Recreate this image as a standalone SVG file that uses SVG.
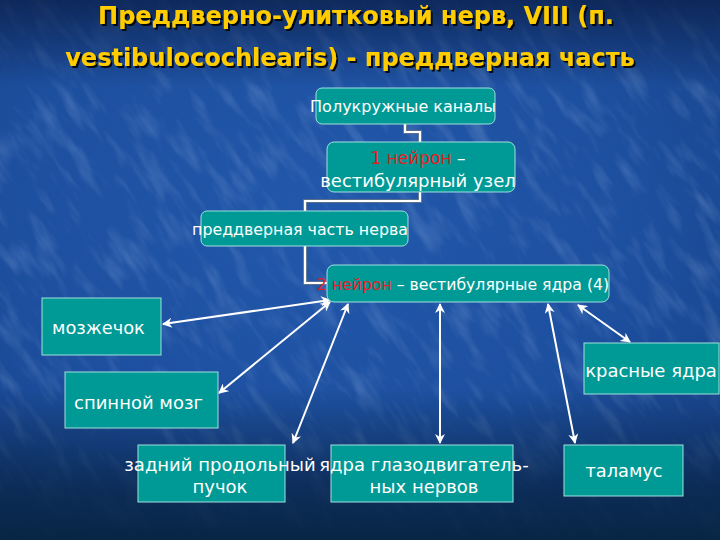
<svg xmlns="http://www.w3.org/2000/svg" width="720" height="540" viewBox="0 0 720 540">
<defs>
  <radialGradient id="bg" cx="0.45" cy="0.4" r="0.8">
    <stop offset="0" stop-color="#2258ab"/>
    <stop offset="0.55" stop-color="#1d4f9f"/>
    <stop offset="1" stop-color="#163f82"/>
  </radialGradient>
  <linearGradient id="shade" x1="0" y1="0" x2="0" y2="1">
    <stop offset="0" stop-color="#0b2250" stop-opacity="0.85"/>
    <stop offset="0.16" stop-color="#0b2250" stop-opacity="0"/>
    <stop offset="0.72" stop-color="#082447" stop-opacity="0"/>
    <stop offset="0.9" stop-color="#082447" stop-opacity="0.75"/>
    <stop offset="1" stop-color="#062440" stop-opacity="0.95"/>
  </linearGradient>
  <filter id="tex" x="0" y="0" width="100%" height="100%">
    <feTurbulence type="fractalNoise" baseFrequency="0.07 0.02" numOctaves="3" seed="7"/>
    <feColorMatrix type="matrix" values="0 0 0 0 0.55  0 0 0 0 0.7  0 0 0 0 0.95  0 0 0 0.45 -0.22"/>
  </filter>
  <filter id="shadow" x="-5%" y="-20%" width="110%" height="140%">
    <feDropShadow dx="2" dy="2" stdDeviation="0.6" flood-color="#000000" flood-opacity="0.85"/>
  </filter>
  <marker id="ah" viewBox="0 0 10 10" refX="9" refY="5" markerWidth="5" markerHeight="5" orient="auto-start-reverse" markerUnits="strokeWidth">
    <path d="M0,0 L10,5 L0,10 L3,5 Z" fill="#ffffff"/>
  </marker>
  <style>
    .box { fill: #009a96; stroke: #9fe0dc; stroke-width: 1; }
    .t { font-family: "DejaVu Sans", "Liberation Sans", sans-serif; fill: #ffffff; }
    .red { fill: #e02020; }
    .title { font-family: "DejaVu Sans", "Liberation Sans", sans-serif; font-weight: bold; font-size: 24px; fill: #ffcc00; text-anchor: middle; }
    .elbow-o { fill: none; stroke: #5a6f88; stroke-width: 4; }
    .elbow { fill: none; stroke: #ffffff; stroke-width: 2.2; }
    .arrow { fill: none; stroke: #ffffff; stroke-width: 2; marker-start: url(#ah); marker-end: url(#ah); }
  </style>
</defs>
<rect x="0" y="0" width="720" height="540" fill="url(#bg)"/>
<g transform="rotate(-35 360 270)">
  <rect x="-200" y="-250" width="1120" height="1040" filter="url(#tex)"/>
</g>
<rect x="0" y="0" width="720" height="540" fill="url(#shade)"/>

<g id="title" filter="url(#shadow)">
  <text class="title" x="356" y="24">Преддверно-улитковый нерв, VIII (п.</text>
  <text class="title" x="350" y="66">vestibulocochlearis) - преддверная часть</text>
</g>

<g id="connectors">
  <path class="elbow-o" d="M405,124 V132 H420 V142"/>
  <path class="elbow-o" d="M420,192 V201 H305 V211"/>
  <path class="elbow-o" d="M305,246 V283 H327"/>
  <path class="elbow" d="M405,124 V132 H420 V142"/>
  <path class="elbow" d="M420,192 V201 H305 V211"/>
  <path class="elbow" d="M305,246 V283 H327"/>
  <line class="arrow" x1="330" y1="300" x2="163" y2="324"/>
  <line class="arrow" x1="330" y1="302" x2="219" y2="393"/>
  <line class="arrow" x1="348" y1="304" x2="293" y2="443"/>
  <line class="arrow" x1="440" y1="304" x2="440" y2="443"/>
  <line class="arrow" x1="548" y1="304" x2="575" y2="443"/>
  <line class="arrow" x1="578" y1="305" x2="630" y2="342"/>
</g>

<g id="n-canals">
  <rect class="box" x="316" y="88" width="179" height="36" rx="6"/>
  <text class="t" x="403" y="112" font-size="16" text-anchor="middle">Полукружные каналы</text>
</g>
<g id="n-neuron1">
  <rect class="box" x="327" y="142" width="188" height="50" rx="7"/>
  <text class="t" x="418" y="164" font-size="17" text-anchor="middle"><tspan class="red">1 нейрон</tspan> –</text>
  <text class="t" x="418" y="187" font-size="18" text-anchor="middle">вестибулярный узел</text>
</g>
<g id="n-nerve">
  <rect class="box" x="201" y="211" width="207" height="35" rx="6"/>
  <text class="t" x="300" y="235" font-size="15.8" text-anchor="middle">преддверная часть нерва</text>
</g>
<g id="n-neuron2">
  <rect class="box" x="327" y="265" width="282" height="37" rx="7"/>
  <text class="t" x="463" y="290" font-size="15.7" text-anchor="middle"><tspan class="red">2 нейрон</tspan> – вестибулярные ядра (4)</text>
</g>
<g id="n-cerebellum">
  <rect class="box" x="42" y="298" width="119" height="57"/>
  <text class="t" x="52" y="334" font-size="17.8">мозжечок</text>
</g>
<g id="n-spinal">
  <rect class="box" x="65" y="372" width="153" height="56"/>
  <text class="t" x="74" y="409" font-size="18">спинной мозг</text>
</g>
<g id="n-mlf">
  <rect class="box" x="138" y="445" width="147" height="57"/>
  <text class="t" x="220" y="471" font-size="18" text-anchor="middle">задний продольный</text>
  <text class="t" x="220" y="493" font-size="18" text-anchor="middle">пучок</text>
</g>
<g id="n-oculomotor">
  <rect class="box" x="331" y="445" width="182" height="57"/>
  <text class="t" x="424" y="471" font-size="18" text-anchor="middle">ядра глазодвигатель-</text>
  <text class="t" x="424" y="493" font-size="18" text-anchor="middle">ных нервов</text>
</g>
<g id="n-thalamus">
  <rect class="box" x="564" y="445" width="119" height="51"/>
  <text class="t" x="624" y="477" font-size="17.8" text-anchor="middle">таламус</text>
</g>
<g id="n-red">
  <rect class="box" x="584" y="343" width="135" height="51"/>
  <text class="t" x="651" y="377" font-size="18" text-anchor="middle">красные ядра</text>
</g>
</svg>
